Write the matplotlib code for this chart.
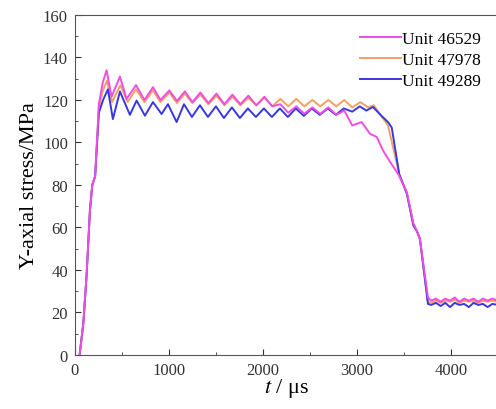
import numpy as np
import matplotlib.pyplot as plt
from matplotlib.ticker import MultipleLocator

plt.rcParams['font.family'] = ['Liberation Serif', 'DejaVu Serif']
plt.rcParams['mathtext.fontset'] = 'stix'

# Unit 46529 (magenta)
t_46529 = [50, 90, 125, 160, 185, 215, 255, 295, 337, 390, 479, 550, 650, 740, 830, 910,
           1005, 1085, 1170, 1250, 1335, 1420, 1505, 1590, 1675, 1760, 1845, 1930, 2015,
           2100, 2185, 2270, 2355, 2440, 2525, 2610, 2695, 2780, 2865, 2950, 3050, 3140,
           3210, 3280, 3350, 3440, 3530, 3600, 3640, 3670, 3755, 3790, 3840, 3890, 3940,
           3990, 4040, 4090, 4140, 4190, 4240, 4290, 4340, 4390, 4440, 4500]
s_46529 = [0, 15, 38, 68, 80, 84, 118, 128, 134, 121.5, 131, 120.5, 127, 120, 126, 120,
           124.5, 119.5, 124, 119, 123.5, 118.5, 123, 118, 122.5, 118, 122, 117.5, 121.5,
           117, 118, 114, 117, 113.5, 116.5, 113.5, 116.5, 113, 115, 108, 109.6, 104,
           102.6, 96, 91, 85, 76.7, 62, 58, 54.6, 27, 25.5, 26.5, 25, 26.5, 25.5, 27,
           25, 26.5, 25.5, 26.5, 25, 26.5, 25.5, 26.5, 25.5]

# Unit 47978 (orange)
t_47978 = [50, 90, 125, 160, 185, 215, 255, 295, 340, 395, 485, 560, 650, 740, 830, 910,
           1005, 1085, 1170, 1250, 1335, 1420, 1505, 1590, 1675, 1760, 1845, 1930, 2015,
           2100, 2185, 2270, 2355, 2440, 2525, 2610, 2695, 2780, 2865, 2950, 3035, 3120,
           3180, 3250, 3330, 3450, 3530, 3600, 3640, 3670, 3755, 3790, 3840, 3890, 3940,
           3990, 4040, 4090, 4140, 4190, 4240, 4290, 4340, 4390, 4440, 4500]
s_47978 = [0, 15, 38, 68, 80, 84, 116, 124, 129, 119, 127, 119, 125, 119, 124.5, 119,
           123.5, 118.5, 123, 118.5, 122.5, 118, 122, 117.5, 121.5, 117.5, 121, 117.5, 121,
           117, 120.5, 117, 120.5, 117, 120, 117, 120, 117, 120, 116.5, 119, 116.5,
           117.5, 113, 108, 85, 76, 61, 58, 54, 25, 24.5, 25.5, 24.5, 25.5, 25, 26,
           24.5, 25.5, 25, 25.5, 24.5, 25.5, 25, 25.5, 25]

# Unit 49289 (blue)
t_49289 = [50, 90, 125, 160, 185, 215, 255, 300, 351, 404, 479, 585, 656, 745, 830, 922,
           990, 1082, 1160, 1245, 1330, 1415, 1500, 1585, 1670, 1755, 1840, 1925, 2010,
           2095, 2180, 2265, 2350, 2435, 2520, 2605, 2690, 2775, 2860, 2950, 3030, 3100,
           3170, 3250, 3330, 3370, 3450, 3530, 3600, 3640, 3670, 3755, 3790, 3840, 3890,
           3940, 3990, 4040, 4090, 4140, 4190, 4240, 4290, 4340, 4390, 4440, 4500]
s_49289 = [0, 15, 38, 68, 80, 84, 114, 120, 125, 111, 124, 113, 119.7, 112.6, 119, 113.4,
           118, 109.6, 118, 112, 117.5, 112, 117, 111.5, 116.5, 111.5, 116, 112, 116,
           112, 116, 112, 116, 112.5, 116, 113, 116, 113, 116, 114.5, 117, 115,
           116.7, 113, 109.6, 107, 85, 76, 61, 58, 54.6, 24, 23.5, 24.5, 23, 24.5, 22.5,
           24.5, 23.5, 24, 22.5, 24.5, 23.5, 24, 22.5, 24, 23.5]

fig = plt.figure(figsize=(4.96, 4.10), dpi=100)
ax = fig.add_axes([0.151, 0.132, 0.853, 0.829])

ax.plot(t_47978, s_47978, color='#F5A060', lw=1.4, label='Unit 47978')
ax.plot(t_49289, s_49289, color='#3838E0', lw=1.4, label='Unit 49289')
ax.plot(t_46529, s_46529, color='#F04CE6', lw=1.4, label='Unit 46529')

handles, labels = ax.get_legend_handles_labels()
order = [2, 0, 1]
ax.legend([handles[i] for i in order], [labels[i] for i in order],
          loc='upper right', frameon=False, fontsize=12.5, handlelength=2.4,
          handletextpad=0.05, labelspacing=0.3, borderaxespad=0.2,
          bbox_to_anchor=(0.985, 0.985))

ax.set_xlim(0, 4500)
ax.set_ylim(0, 160)
ax.xaxis.set_major_locator(MultipleLocator(1000))
ax.xaxis.set_minor_locator(MultipleLocator(500))
ax.yaxis.set_major_locator(MultipleLocator(20))
ax.yaxis.set_minor_locator(MultipleLocator(10))
ax.tick_params(which='both', direction='in', labelsize=12, colors='#333333', pad=5)
ax.tick_params(which='major', length=4)
ax.tick_params(which='minor', length=2.5)
for sp in ax.spines.values():
    sp.set_color('#555555')

ax.set_ylabel('Y-axial stress/MPa', fontsize=16, labelpad=3)
ax.set_xlabel('$t$ / μs', fontsize=16, labelpad=-1)

fig.savefig('out.png', dpi=100)
